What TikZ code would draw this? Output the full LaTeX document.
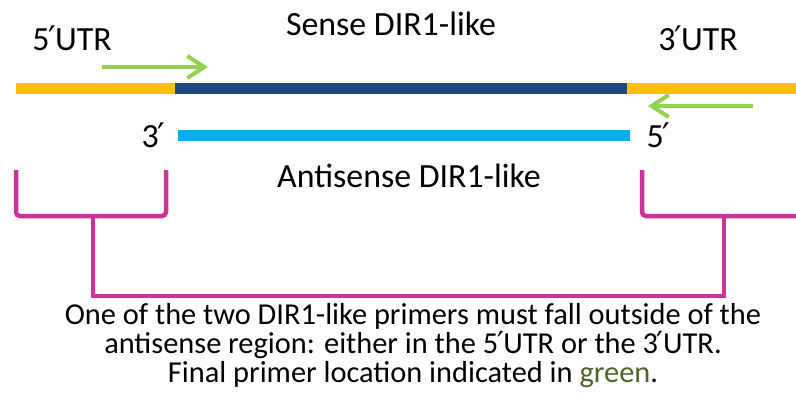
\documentclass[tikz,border=0pt]{standalone}
\usepackage{fontspec}
\setmainfont{Carlito}
\newfontfamily\primefont{DejaVu Sans}
\newcommand{\pr}{{\primefont\kern-0.04em′\kern-0.02em}}
\usetikzlibrary{arrows.meta}
\definecolor{utrorange}{RGB}{255,192,0}
\definecolor{sensedark}{RGB}{31,73,125}
\definecolor{antiblue}{RGB}{0,176,240}
\definecolor{primergreen}{RGB}{146,208,80}
\definecolor{bracketpink}{RGB}{204,51,153}
\definecolor{notegreen}{RGB}{79,98,40}

\begin{document}
\begin{tikzpicture}[x=1bp,y=-1bp,
    lbl/.style={inner sep=0pt,anchor=base,font=\fontsize{34}{40}\selectfont},
    note/.style={inner sep=0pt,anchor=base,font=\fontsize{30.5}{32}\selectfont},
    strand/.style={line width=11bp},
    primer/.style={line width=4bp,draw=primergreen,-{Straight Barb[length=17bp,width=22bp,line width=4bp]}},
    bracket/.style={line width=4.5bp,draw=bracketpink,rounded corners=4bp}]
    \useasboundingbox (0,0) rectangle (796,411);

    % strands
    \coordinate (s0) at (16,88);
    \coordinate (s1) at (175,88);
    \coordinate (s2) at (627,88);
    \coordinate (s3) at (796,88);
    \coordinate (a0) at (178,135);
    \coordinate (a1) at (630,135);
    \draw[strand,utrorange] (s0) -- (s1);
    \draw[strand,sensedark] (s1) -- (s2);
    \draw[strand,utrorange] (s2) -- (s3);
    \draw[strand,antiblue] (a0) -- (a1);

    % primers
    \coordinate (p0) at (102,67);
    \coordinate (p1) at (208,67);
    \coordinate (q0) at (753,106);
    \coordinate (q1) at (648,106);
    \draw[primer] (p0) -- (p1);
    \draw[primer] (q0) -- (q1);

    % labels
    \node[lbl] (sense) at (391,35) {Sense DIR1-like};
    \node[lbl] (utr5) at (72,50) {5\pr UTR};
    \node[lbl] (utr3) at (698,50) {3\pr UTR};
    \node[lbl] (end3) at (153,147) {3\pr};
    \node[lbl] (end5) at (658,147) {5\pr};
    \node[lbl] (anti) at (409,187) {Antisense DIR1-like};

    % brackets
    \coordinate (l0) at (16,170);
    \coordinate (l1) at (16,216);
    \coordinate (l2) at (166,216);
    \coordinate (l3) at (166,170);
    \coordinate (r0) at (642,170);
    \coordinate (r1) at (642,216);
    \coordinate (r2) at (798,216);
    \coordinate (b0) at (93,216);
    \coordinate (b1) at (93,296);
    \coordinate (b2) at (724,296);
    \coordinate (b3) at (724,216);
    \draw[bracket] (l0) -- (l1) -- (l2) -- (l3);
    \draw[bracket] (r0) -- (r1) -- (r2);
    \draw[bracket,rounded corners=0pt] (b0) -- (b1) -- (b2) -- (b3);

    % note
    \node[note] (line1) at (413,324) {One of the two DIR1-like primers must fall outside of the};
    \node[note] (line2) at (413,353) {antisense region: either in the 5\pr UTR or the 3\pr UTR.};
    \node[note] (line3) at (413,382) {Final primer location indicated in \textcolor{notegreen}{green}.};
\end{tikzpicture}
\end{document}
